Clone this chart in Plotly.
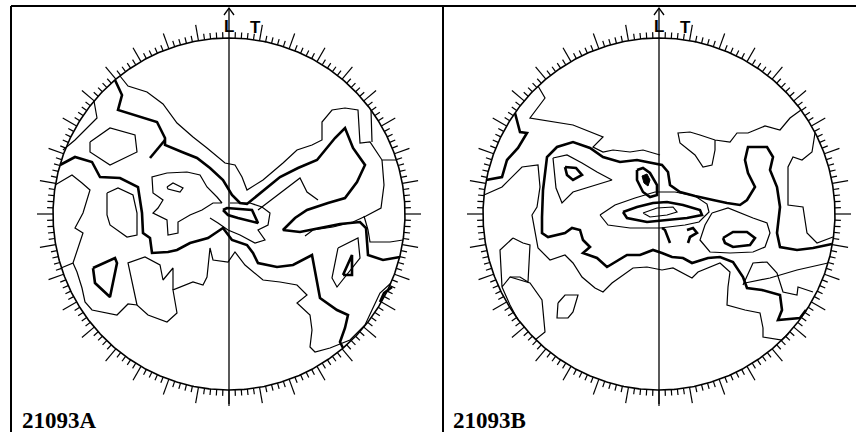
import numpy as np
import plotly.graph_objects as go

# Units: projection units in which the primitive circle has radius R_NET.
R_NET = 176.0

# ---------------- 21093A (left net) ----------------
a_thin_1 = [(-109,138),(-101,128),(-82,122),(-66,110),(-52,91),(-36,77),(-22,66),(-4,51),(6,49),(13,37),(18,24),
            (34,34),(54,51),(68,64),(83,69),(93,74),(93,92),(103,104),(116,106),(129,104),(131,71),(141,72),(153,54),(168,54)]
a_thin_2 = [(142,104),(143,72)]
a_thin_3 = [(-135,113),(-132,96),(-154,74),(-166,64)]
a_thin_4 = [(-139,72),(-119,86),(-94,79),(-92,62),(-119,49),(-139,62),(-139,72)]
a_thin_5 = [(-122,21),(-111,26),(-96,19),(-92,1),(-92,-21),(-102,-23),(-119,-11),(-122,-1),(-122,21)]
a_thin_6 = [(-174,29),(-157,39),(-147,31),(-139,24),(-146,1),(-154,-14),(-146,-19),(-156,-49),(-168,-54)]
a_thin_7 = [(-156,-49),(-152,-58),(-147,-74),(-144,-88),(-137,-96),(-112,-101),(-101,-90),(-92,-91),(-81,-101),
            (-62,-108),(-52,-99),(-56,-76),(-36,-68),(-26,-71),(-22,-63),(-19,-34),(-16,-46),(-1,-48),(6,-38),(16,-51),
            (34,-66),(51,-68),(68,-71),(78,-81),(68,-89),(81,-101),(83,-116),(81,-133),(86,-138),(101,-134),(121,-126),
            (136,-111),(143,-96),(151,-79),(162,-69)]
a_thin_8 = [(-92,-91),(-101,-49),(-84,-43),(-69,-51),(-66,-66),(-56,-54),(-56,-76)]
a_thin_9 = [(-7,11),(-12,17),(-22,27),(-29,39),(-42,42),(-62,41),(-77,37),(-76,21),(-66,14),(-71,6),(-76,1),
            (-62,-6),(-61,-21),(-51,-19),(-51,-8),(-39,-1),(-27,4),(-16,11),(-7,11)]
a_thin_10 = [(-62,27),(-56,31),(-46,26),(-49,22),(-61,25),(-62,27)]
a_thin_11 = [(1,11),(21,11),(33,7),(41,1),(39,-11),(29,-16),(36,-26),(26,-29),(11,-21),(-1,-16),(-11,-9),(-19,-4)]
a_thin_12 = [(29,4),(49,19),(71,36),(78,22),(89,14)]
a_thin_13 = [(153,54),(155,29),(152,6),(137,-2),(124,-8),(104,-13),(84,-16),(76,-22)]
a_thin_14 = [(135,-2),(139,-16),(141,-28),(161,-28),(174,-26)]
a_thin_15 = [(109,-34),(129,-24),(131,-44),(108,-73),(103,-64),(109,-34)]

a_thick_1 = [(-114,134),(-107,119),(-111,104),(-92,98),(-72,92),(-64,76),(-64,69),(-47,62),(-32,56),(-19,46),(-6,34),
             (3,19),(11,11),(18,10),(33,22),(51,37),(69,46),(88,54),(106,76),(116,86),(124,66),(136,49),(128,32),
             (116,16),(99,11),(78,4),(66,-4),(54,-16),(71,-18),(91,-14),(111,-10),(131,-8),(137,-14),(139,-41),
             (154,-46),(171,-43)]
a_thick_2 = [(-64,74),(-79,56)]
a_thick_3 = [(-169,49),(-154,57),(-137,52),(-129,37),(-109,36),(-91,27),(-87,1),(-86,-19),(-79,-24),(-77,-39),
             (-61,-38),(-52,-36),(-39,-29),(-21,-24),(-12,-18),(-6,-14),(3,-26),(18,-31),(24,-39),(29,-49),(48,-53),
             (64,-51),(83,-41),(86,-58),(91,-84),(108,-96),(119,-101),(116,-114),(111,-128),(114,-134)]
a_thick_4 = [(-136,-54),(-114,-44),(-112,-49),(-119,-83),(-134,-69),(-136,-54)]
a_thick_5 = [(-6,4),(-2,6),(23,4),(29,-9),(9,-4),(-1,-1),(-6,4)]
a_thick_6 = [(114,-61),(123,-41),(123,-61),(114,-61)]
a_thick_7 = [(151,-88),(155,-79),(163,-73)]

A_THIN = [a_thin_1, a_thin_2, a_thin_3, a_thin_4, a_thin_5, a_thin_6, a_thin_7, a_thin_8,
          a_thin_9, a_thin_10, a_thin_11, a_thin_12, a_thin_13, a_thin_14, a_thin_15]
A_THICK = [a_thick_1, a_thick_2, a_thick_3, a_thick_4, a_thick_5, a_thick_6, a_thick_7]
A_FILLED = []

# ---------------- 21093B (right net) ----------------
b_thin_1 = [(-121,128),(-114,116),(-129,96),(-102,92),(-86,89),(-56,77),(-66,67),(-56,62),(-46,64),(-29,62),(-16,64),(1,59)]
b_thin_2 = [(156,81),(153,62),(143,54),(134,57),(129,47),(129,9),(144,7),(148,-19),(158,-29),(174,-23)]
b_thin_3 = [(142,104),(131,96),(121,84),(106,88),(89,81),(78,81),(71,72),(56,74),(41,79),(31,82),(19,81),(21,71),
            (36,59),(44,47),(53,49),(56,64),(56,74)]
b_thin_4 = [(-175,19),(-157,27),(-137,47),(-121,49),(-119,27),(-122,7),(-127,-1),(-124,-16),(-121,-34),(-109,-46),
            (-94,-41),(-86,-49),(-77,-63),(-64,-74),(-56,-78),(-47,-69),(-39,-63),(-26,-54),(-12,-53),(3,-56),(14,-54),
            (33,-64),(39,-58),(61,-49),(71,-58),(69,-73),(68,-91),(86,-96),(101,-99),(104,-114),(104,-123),(123,-126),(130,-119)]
b_thin_5 = [(84,-71),(94,-49),(108,-48),(118,-59),(124,-78),(138,-81),(139,-73),(154,-78)]
b_thin_6 = [(86,-69),(111,-64),(138,-56),(169,-49)]
b_thin_7 = [(-146,-24),(-136,-29),(-129,-31),(-131,-68),(-139,-63),(-149,-63),(-157,-73),(-159,-36),(-146,-24)]
b_thin_8 = [(-149,-63),(-129,-69),(-117,-86),(-114,-118),(-124,-126)]
b_thin_9 = [(-157,-73),(-149,-91),(-141,-106)]
b_thin_10 = [(-101,-89),(-94,-81),(-81,-81),(-86,-98),(-91,-104),(-102,-104),(-101,-89)]
b_thin_11 = [(53,1),(69,6),(94,-4),(108,-9),(111,-19),(106,-33),(94,-38),(71,-39),(51,-38),(41,-26),(46,-11),(53,1)]
b_thin_12 = [(-16,1),(-2,6),(14,7),(18,2),(8,-1),(-9,-3),(-16,1)]
b_thin_13 = [(-59,-1),(-44,9),(-24,16),(-4,22),(16,22),(36,18),(48,10),(50,2),(40,-8),(26,-11),(1,-14),(-29,-14),(-51,-11),(-59,-1)]
b_thin_14 = [(-106,56),(-92,59),(-77,51),(-62,42),(-47,34),(-66,28),(-86,22),(-97,11),(-103,26),(-106,56)]

b_thick_1 = [(147,-96),(141,-104),(119,-106),(123,-96),(121,-81),(103,-76),(88,-74),(84,-63),(74,-48),(61,-43),
             (49,-44),(33,-49),(24,-44),(13,-43),(3,-39),(-6,-36),(-19,-41),(-32,-41),(-52,-53),(-62,-44),(-76,-39),
             (-69,-33),(-76,-26),(-79,-16),(-87,-14),(-94,-19),(-111,-23),(-117,-19),(-117,-3),(-116,24),(-112,57),
             (-102,67),(-86,72),(-69,66),(-56,57),(-39,52),(-22,54),(-6,51),(3,49),(9,42),(11,29),(21,22),(36,18),
             (54,14),(68,11),(81,9),(88,14),(96,27),(89,41),(86,54),(89,67),(108,67),(114,57),(111,44),(118,27),
             (121,7),(118,-19),(121,-33),(138,-36),(154,-34),(173,-30)]
b_thick_2 = [(-144,101),(-139,82),(-132,81),(-141,66),(-152,54),(-157,37),(-173,34)]
b_thick_3 = [(64,-24),(74,-18),(88,-18),(96,-24),(91,-31),(74,-33),(66,-29),(64,-24)]
b_thick_4 = [(28,-16),(34,-14),(38,-19),(31,-23),(29,-29)]
b_thick_5 = [(3,-14),(6,-16),(11,-29)]
b_thick_6 = [(-36,2),(-22,7),(-6,11),(8,12),(24,9),(41,4),(43,-1),(28,-4),(8,-6),(-12,-8),(-32,-4),(-36,2)]
b_thick_7 = [(-94,47),(-83,46),(-77,39),(-86,34),(-92,39),(-94,47)]
b_thick_8 = [(-22,44),(-16,46),(-9,41),(-2,29),(-2,19),(-9,17),(-16,22),(-22,34),(-22,44)]
b_fill_1 = [(-17,38),(-12,40),(-9,34),(-11,28),(-15,31),(-17,38)]

B_THIN = [b_thin_1, b_thin_2, b_thin_3, b_thin_4, b_thin_5, b_thin_6, b_thin_7, b_thin_8, b_thin_9,
          b_thin_10, b_thin_11, b_thin_12, b_thin_13, b_thin_14]
B_THICK = [b_thick_1, b_thick_2, b_thick_3, b_thick_4, b_thick_5, b_thick_6, b_thick_7, b_thick_8]
B_FILLED = [b_fill_1]

PANEL_LABELS = ["21093A", "21093B"]
AXIS_LABELS = ["L", "T"]

# ---------------- layout geometry (pixels) ----------------
W, H = 856, 432
DIVIDER = 443
CENTERS_X = [229, 659]
CENTER_Y = 214
PX = R_NET  # pixels per projection unit / R_NET

fig = go.Figure()

THIN_W, THICK_W = 1.2, 2.6


def add_contours(contours, width, xa, ya, fill=False):
    for c in contours:
        xs = [p[0] / R_NET for p in c]
        ys = [p[1] / R_NET for p in c]
        fig.add_trace(go.Scatter(
            x=xs, y=ys, mode="lines", xaxis=xa, yaxis=ya,
            line=dict(color="black", width=width),
            fill="toself" if fill else None,
            fillcolor="black" if fill else None,
            hoverinfo="skip", showlegend=False))


def add_net(xa, ya):
    th = np.linspace(0, 2 * np.pi, 721)
    fig.add_trace(go.Scatter(x=np.sin(th), y=np.cos(th), mode="lines", xaxis=xa, yaxis=ya,
                             line=dict(color="black", width=1.6), hoverinfo="skip", showlegend=False))
    tx, ty = [], []
    for deg in range(0, 360, 2):
        if deg == 0:
            continue
        a = np.radians(deg)
        ln = 16 / R_NET if deg % 10 == 0 else 6 / R_NET
        tx += [np.sin(a), (1 + ln) * np.sin(a), None]
        ty += [np.cos(a), (1 + ln) * np.cos(a), None]
    fig.add_trace(go.Scatter(x=tx, y=ty, mode="lines", xaxis=xa, yaxis=ya,
                             line=dict(color="black", width=1.2), hoverinfo="skip", showlegend=False))
    # reference line with arrow (L direction)
    y_bot = -190 / R_NET
    y_top = 206 / R_NET
    wing = 5 / R_NET
    fig.add_trace(go.Scatter(x=[0, 0, None, -wing, 0, wing], y=[y_bot, y_top, None, y_top - 7 / R_NET, y_top, y_top - 7 / R_NET],
                             mode="lines", xaxis=xa, yaxis=ya,
                             line=dict(color="black", width=1.3), hoverinfo="skip", showlegend=False))


add_net("x", "y")
add_contours(A_THIN, THIN_W, "x", "y")
add_contours(A_THICK, THICK_W, "x", "y")
add_contours(A_FILLED, 1, "x", "y", fill=True)

add_net("x2", "y2")
add_contours(B_THIN, THIN_W, "x2", "y2")
add_contours(B_THICK, THICK_W, "x2", "y2")
add_contours(B_FILLED, 1, "x2", "y2", fill=True)

annotations = []
for i, cx in enumerate(CENTERS_X):
    xref = "x" if i == 0 else "x2"
    yref = "y" if i == 0 else "y2"
    annotations.append(dict(x=0 / R_NET, y=188 / R_NET, xref=xref, yref=yref, text="<b>" + AXIS_LABELS[0] + "</b>",
                            showarrow=False, font=dict(family="Liberation Sans", size=17, color="black"),
                            xanchor="center", yanchor="middle"))
    annotations.append(dict(x=26 / R_NET, y=187 / R_NET, xref=xref, yref=yref, text="<b>" + AXIS_LABELS[1] + "</b>",
                            showarrow=False, font=dict(family="Liberation Sans", size=17, color="black"),
                            xanchor="center", yanchor="middle"))
    left_px = 20 if i == 0 else 451
    annotations.append(dict(x=left_px / W, y=1 - 420.5 / H, xref="paper", yref="paper", text="<b>" + PANEL_LABELS[i] + "</b>",
                            showarrow=False, font=dict(family="Liberation Serif", size=23, color="black"),
                            xanchor="left", yanchor="middle"))

shapes = [
    dict(type="line", xref="paper", yref="paper", x0=11 / W, x1=1, y0=1 - 6 / H, y1=1 - 6 / H,
         line=dict(color="black", width=2)),
    dict(type="line", xref="paper", yref="paper", x0=11 / W, x1=11 / W, y0=0, y1=1 - 6 / H,
         line=dict(color="black", width=2)),
    dict(type="line", xref="paper", yref="paper", x0=DIVIDER / W, x1=DIVIDER / W, y0=0, y1=1 - 6 / H,
         line=dict(color="black", width=2)),
]

ax_common = dict(visible=False, showgrid=False, zeroline=False, fixedrange=True)
fig.update_layout(
    width=W, height=H, margin=dict(l=0, r=0, t=0, b=0),
    paper_bgcolor="white", plot_bgcolor="white", showlegend=False, hovermode=False,
    xaxis=dict(domain=[0, DIVIDER / W], range=[-CENTERS_X[0] / PX, (DIVIDER - CENTERS_X[0]) / PX], **ax_common),
    yaxis=dict(domain=[0, 1], range=[(CENTER_Y - H) / PX, CENTER_Y / PX], **ax_common),
    xaxis2=dict(domain=[DIVIDER / W, 1], range=[(DIVIDER - CENTERS_X[1]) / PX, (W - CENTERS_X[1]) / PX], **ax_common),
    yaxis2=dict(domain=[0, 1], range=[(CENTER_Y - H) / PX, CENTER_Y / PX], anchor="x2", **ax_common),
    annotations=annotations, shapes=shapes,
)

fig.write_html("out.html", config={"staticPlot": True},
               post_script="document.body.style.margin='0';document.body.style.overflow='hidden';")
